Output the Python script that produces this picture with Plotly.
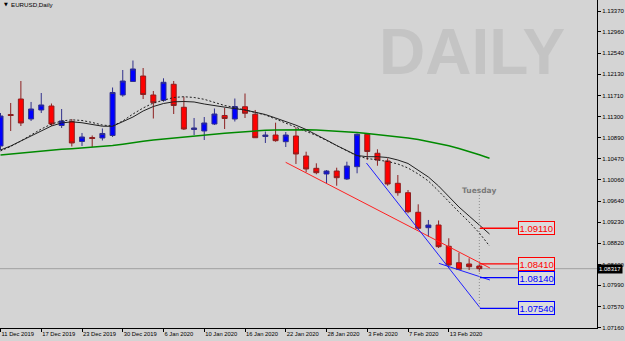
import plotly.graph_objects as go

# ---------------- data ----------------
dates = ["11 Dec 2019", "12 Dec 2019", "13 Dec 2019", "16 Dec 2019", "17 Dec 2019", "18 Dec 2019",
         "19 Dec 2019", "20 Dec 2019", "23 Dec 2019", "24 Dec 2019", "26 Dec 2019", "27 Dec 2019",
         "30 Dec 2019", "31 Dec 2019", "2 Jan 2020", "3 Jan 2020", "6 Jan 2020", "7 Jan 2020",
         "8 Jan 2020", "9 Jan 2020", "10 Jan 2020", "13 Jan 2020", "14 Jan 2020", "15 Jan 2020",
         "16 Jan 2020", "17 Jan 2020", "20 Jan 2020", "21 Jan 2020", "22 Jan 2020", "23 Jan 2020",
         "24 Jan 2020", "27 Jan 2020", "28 Jan 2020", "29 Jan 2020", "30 Jan 2020", "31 Jan 2020",
         "3 Feb 2020", "4 Feb 2020", "5 Feb 2020", "6 Feb 2020", "7 Feb 2020", "10 Feb 2020",
         "11 Feb 2020", "12 Feb 2020", "13 Feb 2020", "14 Feb 2020", "17 Feb 2020", "18 Feb 2020"]

opens = [1.10723, 1.11340, 1.11644, 1.11252, 1.11429, 1.11507, 1.11125, 1.11203, 1.10811, 1.10889,
         1.10880, 1.10929, 1.11723, 1.11988, 1.12095, 1.11723, 1.11619, 1.11933, 1.11482, 1.11046,
         1.11017, 1.11154, 1.11321, 1.11252, 1.11493, 1.11344, 1.10909, 1.10938, 1.10807, 1.10919,
         1.10527, 1.10285, 1.10174, 1.10232, 1.10076, 1.10317, 1.10952, 1.10580, 1.10429, 1.09991,
         1.09807, 1.09423, 1.09121, 1.09173, 1.08756, 1.08434, 1.08409, 1.08369]
highs = [1.11370, 1.11566, 1.11997, 1.11586, 1.11762, 1.11556, 1.11448, 1.11252, 1.10978, 1.10929,
         1.11066, 1.11870, 1.12213, 1.12399, 1.12252, 1.11801, 1.12050, 1.11997, 1.11689, 1.11272,
         1.11291, 1.11458, 1.11468, 1.11654, 1.11752, 1.11429, 1.11007, 1.11180, 1.10997, 1.11089,
         1.10611, 1.10383, 1.10252, 1.10297, 1.10415, 1.10968, 1.10968, 1.10658, 1.10481, 1.10154,
         1.09860, 1.09579, 1.09272, 1.09262, 1.08913, 1.08630, 1.08520, 1.08422]
lows = [1.10644, 1.11017, 1.11115, 1.11213, 1.11370, 1.11115, 1.11076, 1.10713, 1.10723, 1.10703,
        1.10831, 1.10899, 1.11689, 1.11978, 1.11644, 1.11262, 1.11591, 1.11350, 1.11036, 1.10938,
        1.10840, 1.11134, 1.11056, 1.11203, 1.11272, 1.10880, 1.10782, 1.10807, 1.10703, 1.10370,
        1.10207, 1.10168, 1.09991, 1.09944, 1.10056, 1.10187, 1.10448, 1.10336, 1.09944, 1.09748,
        1.09403, 1.09075, 1.08944, 1.08722, 1.08330, 1.08291, 1.08291, 1.08258]
closes = [1.11311, 1.11321, 1.11174, 1.11448, 1.11527, 1.11154, 1.11213, 1.10782, 1.10899, 1.10870,
          1.10968, 1.11772, 1.11997, 1.12233, 1.11733, 1.11572, 1.11972, 1.11517, 1.11056, 1.11076,
          1.11174, 1.11350, 1.11262, 1.11497, 1.11364, 1.10885, 1.10938, 1.10827, 1.10938, 1.10566,
          1.10272, 1.10199, 1.10232, 1.10101, 1.10330, 1.10952, 1.10615, 1.10448, 1.09978, 1.09807,
          1.09434, 1.09109, 1.09173, 1.08748, 1.08389, 1.08305, 1.08356, 1.08317]

# moving averages, one value per bar position 0..48 (drawn one bar ahead)
ma_solid = [1.10644, 1.10723, 1.10821, 1.10919, 1.11017, 1.11115, 1.11174, 1.11197, 1.11178, 1.11138,
            1.11111, 1.11109, 1.11193, 1.11291, 1.11409, 1.11497, 1.11556, 1.11589, 1.11595, 1.11586,
            1.11546, 1.11511, 1.11478, 1.11454, 1.11429, 1.11389, 1.11340, 1.11272, 1.11203, 1.11131,
            1.11046, 1.10948, 1.10840, 1.10732, 1.10634, 1.10536, 1.10513, 1.10513, 1.10497, 1.10448,
            1.10380, 1.10252, 1.10115, 1.09938, 1.09723, 1.09526, 1.09350, 1.09164, 1.08997]
ma_dotted = [1.10625, 1.10713, 1.10821, 1.10938, 1.11056, 1.11154, 1.11213, 1.11236, 1.11223, 1.11184,
             1.11134, 1.11115, 1.11213, 1.11350, 1.11468, 1.11566, 1.11625, 1.11674, 1.11689, 1.11674,
             1.11638, 1.11576, 1.11517, 1.11478, 1.11429, 1.11389, 1.11331, 1.11252, 1.11174, 1.11095,
             1.11017, 1.10929, 1.10831, 1.10732, 1.10634, 1.10527, 1.10478, 1.10448, 1.10419, 1.10370,
             1.10291, 1.10174, 1.10036, 1.09840, 1.09625, 1.09428, 1.09232, 1.09017, 1.08762]
ma_long = [1.10546, 1.10566, 1.10585, 1.10605, 1.10629, 1.10644, 1.10658, 1.10670, 1.10683, 1.10695,
           1.10709, 1.10731, 1.10758, 1.10791, 1.10817, 1.10840, 1.10860, 1.10880, 1.10903, 1.10927,
           1.10942, 1.10958, 1.10974, 1.10989, 1.11005, 1.11019, 1.11031, 1.11038, 1.11044, 1.11046,
           1.11042, 1.11034, 1.11025, 1.11013, 1.11001, 1.10987, 1.10968, 1.10948, 1.10929, 1.10905,
           1.10880, 1.10848, 1.10809, 1.10770, 1.10727, 1.10674, 1.10615, 1.10550, 1.10481]

tick_dates = ["11 Dec 2019", "17 Dec 2019", "23 Dec 2019", "30 Dec 2019", "6 Jan 2020", "10 Jan 2020",
              "16 Jan 2020", "22 Jan 2020", "28 Jan 2020", "3 Feb 2020", "7 Feb 2020", "13 Feb 2020"]
price_ticks = [1.13370, 1.12960, 1.12540, 1.12130, 1.11710, 1.11300, 1.10890, 1.10470,
               1.10060, 1.09640, 1.09230, 1.08820, 1.08400, 1.07990, 1.07570, 1.07160]
bid_price = 1.08317

# hand-drawn trend lines (bar position, price)
red_trend_x = [27.99, 48.04]
red_trend_y = [1.10403, 1.08330]
blue_steep_x = [35.92, 47.06]
blue_steep_y = [1.10389, 1.07554]
blue_flat_x = [43.03, 48.04]
blue_flat_y = [1.08422, 1.08095]

# price targets shown as boxes on the right
target_prices = [1.09110, 1.08410, 1.08140, 1.07540]
target_colors = ["#ff0000", "#ff0000", "#0000ff", "#0000ff"]
target_line_x = [47.06, 50.78]

# "Tuesday" marker
marker_text = "Tuesday"
marker_bar = 47
marker_y = [1.09762, 1.07565]
marker_label_y = 1.09846

chart_title = "EURUSD,Daily"
watermark = "DAILY"

# ---------------- figure ----------------
BG = "#d4d4d4"
bars = list(range(len(dates)))
ma_pos = list(range(len(ma_solid)))

fig = go.Figure()

fig.add_shape(type="line", xref="paper", x0=0, x1=1, yref="y", y0=bid_price, y1=bid_price,
              line=dict(color="#a2a2a2", width=1), layer="below")

fig.add_trace(go.Scatter(x=ma_pos, y=ma_long, mode="lines",
                         line=dict(color="#008a00", width=1.5), hoverinfo="skip"))
fig.add_trace(go.Scatter(x=ma_pos, y=ma_dotted, mode="lines",
                         line=dict(color="#202020", width=1, dash="2px,2px"), hoverinfo="skip"))
fig.add_trace(go.Scatter(x=ma_pos, y=ma_solid, mode="lines",
                         line=dict(color="#202020", width=1), hoverinfo="skip"))

fig.add_trace(go.Scatter(x=red_trend_x, y=red_trend_y, mode="lines",
                         line=dict(color="#ff2020", width=1), hoverinfo="skip"))
fig.add_trace(go.Scatter(x=blue_steep_x, y=blue_steep_y, mode="lines",
                         line=dict(color="#2020ff", width=1), hoverinfo="skip"))
fig.add_trace(go.Scatter(x=blue_flat_x, y=blue_flat_y, mode="lines",
                         line=dict(color="#2020ff", width=1), hoverinfo="skip"))

fig.add_trace(go.Scatter(x=[marker_bar, marker_bar], y=marker_y, mode="lines",
                         line=dict(color="#8c8c8c", width=1, dash="1px,2px"), hoverinfo="skip"))

for p, c in zip(target_prices, target_colors):
    fig.add_trace(go.Scatter(x=target_line_x, y=[p, p], mode="lines",
                             line=dict(color=c, width=1.3), hoverinfo="skip"))

fig.add_trace(go.Candlestick(
    x=bars, open=opens, high=highs, low=lows, close=closes,
    increasing=dict(fillcolor="#0000ff", line=dict(color="#30308c", width=1)),
    decreasing=dict(fillcolor="#ff0000", line=dict(color="#8c2020", width=1)),
    whiskerwidth=0, hoverinfo="skip"))

annotations = []
for p, c in zip(target_prices, target_colors):
    annotations.append(dict(x=target_line_x[1], y=p, xref="x", yref="y", text=f"{p:.5f}",
                            showarrow=False, xanchor="left", yanchor="middle",
                            font=dict(family="Liberation Sans", size=9.5, color=c),
                            bordercolor=c, borderwidth=1, borderpad=0.5, bgcolor="#dcdcdc"))

annotations.append(dict(x=marker_bar, y=marker_label_y, xref="x", yref="y", text=marker_text,
                        showarrow=False, xanchor="center", yanchor="middle",
                        font=dict(family="DejaVu Sans", size=7.5, color="#7a7a7a", weight="bold")))

annotations.append(dict(x=1, y=bid_price, xref="paper", yref="y", text=f"{bid_price:.5f}",
                        showarrow=False, xanchor="left", yanchor="middle",
                        font=dict(family="Liberation Sans", size=6, color="#ffffff"),
                        bgcolor="#000000", borderpad=1))

annotations.append(dict(x=472 / 597, y=1 - 52 / 328, xref="paper", yref="paper", text=watermark,
                        showarrow=False, xanchor="center", yanchor="middle",
                        font=dict(family="Liberation Sans", size=64, color="#c4c4c4", weight="bold")))

annotations.append(dict(x=2 / 597, y=1 - 4.5 / 328, xref="paper", yref="paper", text="▼",
                        showarrow=False, xanchor="left", yanchor="middle",
                        font=dict(family="DejaVu Sans", size=5, color="#000000")))
annotations.append(dict(x=9 / 597, y=1 - 4.5 / 328, xref="paper", yref="paper", text=chart_title,
                        showarrow=False, xanchor="left", yanchor="middle",
                        font=dict(family="Liberation Sans", size=6.2, color="#000000")))

fig.update_layout(
    width=625, height=341,
    margin=dict(l=0, r=28, t=0, b=13, pad=0),
    paper_bgcolor=BG, plot_bgcolor=BG,
    showlegend=False,
    annotations=annotations,
    xaxis=dict(range=[-0.05, 58.55], showgrid=False, zeroline=False,
               showline=True, linecolor="#000000", linewidth=1,
               ticks="outside", ticklen=3, tickcolor="#000000",
               tickvals=[dates.index(d) for d in tick_dates], ticktext=tick_dates,
               ticklabelposition="outside right", tickangle=0,
               tickfont=dict(family="Liberation Sans", size=5.8, color="#000000"),
               rangeslider=dict(visible=False), automargin=False, fixedrange=True),
    yaxis=dict(side="right", range=[1.071536, 1.135857], showgrid=False, zeroline=False,
               showline=True, linecolor="#000000", linewidth=1,
               ticks="outside", ticklen=3, tickcolor="#000000",
               tickvals=price_ticks, ticktext=[f"{v:.5f}" for v in price_ticks],
               tickfont=dict(family="Liberation Sans", size=6, color="#000000"),
               automargin=False, fixedrange=True),
)

fig.write_html("out.html")
